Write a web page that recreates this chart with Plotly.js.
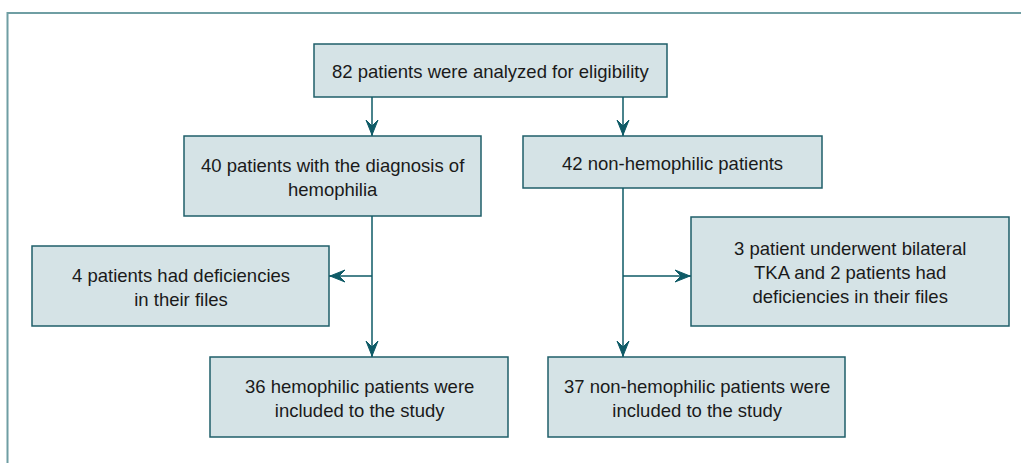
<!DOCTYPE html>
<html><head><meta charset="utf-8">
<script src="https://cdn.plot.ly/plotly-3.0.1.min.js"></script>
<style>html,body{margin:0;padding:0;background:#fff;}#chart{width:1021px;height:463px;}</style>
</head><body><div id="chart"></div>
<script>
// Flowchart content
const labels = [
  "82 patients were analyzed for eligibility",
  "40 patients with the diagnosis of<br>hemophilia",
  "42 non-hemophilic patients",
  "4 patients had deficiencies<br>in their files",
  "3 patient underwent bilateral<br>TKA and 2 patients had<br>deficiencies in their files",
  "36 hemophilic patients were<br>included to the study",
  "37 non-hemophilic patients were<br>included to the study"
];
const counts = [82, 40, 42, 4, 5, 36, 37];

// layout geometry (pixels): [x0, x1, y0, y1]
const boxes = [
  [314, 667, 44, 97],
  [184, 481, 136, 216],
  [523, 822, 136, 188],
  [32, 329, 246, 326],
  [691, 1009, 217, 326],
  [210, 508, 357, 437],
  [548, 845, 357, 437]
];
// connectors: [x0,y0,x1,y1, arrow?]
const links = [
  [372, 97, 372, 136, 'down'],
  [623, 97, 623, 136, 'down'],
  [372, 216, 372, 357, 'down'],
  [372, 276, 329, 276, 'left'],
  [623, 188, 623, 357, 'down'],
  [623, 276, 691, 276, 'right']
];

const lineCol = '#0e5a66';
const shapes = [];
// outer frame
shapes.push({type:'rect', xref:'x', yref:'y', x0:7.5, x1:1030, y0:13, y1:480,
  line:{color:'#6f9ea3', width:2}, fillcolor:'rgba(0,0,0,0)'});
const annotations = [];
boxes.forEach((b, i) => {
  shapes.push({type:'rect', xref:'x', yref:'y', x0:b[0], x1:b[1], y0:b[2], y1:b[3],
    line:{color:'#1f5f6a', width:1.5}, fillcolor:'#d5e3e6', layer:'below'});
  annotations.push({x:(b[0]+b[1])/2, y:(b[2]+b[3])/2 + 1, xref:'x', yref:'y', text:labels[i],
    showarrow:false, font:{family:'"Liberation Sans", Arial, sans-serif', size:18.5, color:'#1a1a1a'},
    align:'center', xanchor:'center', yanchor:'middle'});
});
links.forEach(l => {
  const [x0,y0,x1,y1,dir] = l;
  shapes.push({type:'line', xref:'x', yref:'y', x0:x0, y0:y0, x1:x1, y1:y1,
    line:{color:lineCol, width:1.5}});
  let p;
  if (dir === 'down') {
    const t = y1 - 1;
    p = `M ${x1-6} ${t-15} L ${x1} ${t} L ${x1+6} ${t-15} L ${x1} ${t-9} Z`;
  } else if (dir === 'left') {
    const t = x1 + 1;
    p = `M ${t+15} ${y1-6} L ${t} ${y1} L ${t+15} ${y1+6} L ${t+9} ${y1} Z`;
  } else {
    const t = x1 - 1;
    p = `M ${t-15} ${y1-6} L ${t} ${y1} L ${t-15} ${y1+6} L ${t-9} ${y1} Z`;
  }
  shapes.push({type:'path', xref:'x', yref:'y', path:p, fillcolor:lineCol, line:{color:lineCol, width:1}});
});

const layout = {
  width:1021, height:463,
  margin:{l:0, r:0, t:0, b:0},
  paper_bgcolor:'#ffffff', plot_bgcolor:'#ffffff',
  xaxis:{range:[0,1021], visible:false, fixedrange:true},
  yaxis:{range:[463,0], visible:false, fixedrange:true},
  shapes:shapes, annotations:annotations, showlegend:false
};
Plotly.newPlot('chart', [{x:[], y:[], type:'scatter', mode:'markers', hoverinfo:'skip', customdata:counts}], layout, {displayModeBar:false, staticPlot:true});
</script></body></html>
